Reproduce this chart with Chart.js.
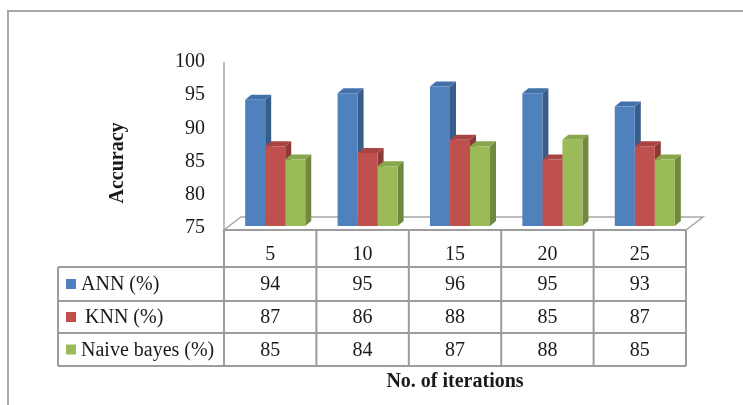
<!DOCTYPE html>
<html>
<head>
<meta charset="utf-8">
<script src="https://cdn.jsdelivr.net/npm/chart.js@4/dist/chart.umd.min.js"></script>
<style>
  html, body { margin: 0; padding: 0; background: #fff; }
  canvas { display: block; }
</style>
</head>
<body>
<canvas id="chart" width="743" height="405"></canvas>
<script>
// Accuracy of three classifiers against the number of iterations
const iterations = ['5', '10', '15', '20', '25'];
const annAccuracy = [94, 95, 96, 95, 93];
const knnAccuracy = [87, 86, 88, 85, 87];
const naiveBayesAccuracy = [85, 84, 87, 88, 85];
const seriesNames = ['ANN (%)', 'KNN (%)', 'Naive bayes (%)'];
const yMin = 75, yMax = 100, yStep = 5;
const yTitle = 'Accuracy';
const xTitle = 'No. of iterations';

const SERIF = '"Liberation Serif", "Times New Roman", serif';
const TEXT = '#1a1a1a';
const LINE = '#9c9c9c';
const faces = [
  { front: '#4F81BD', side: '#385D8A', top: '#4372AB' },
  { front: '#C0504D', side: '#8C3A38', top: '#A84542' },
  { front: '#9BBB59', side: '#71893F', top: '#88A64C' }
];
const DEPTH_X = 6, DEPTH_Y = 5;   // extrusion of each bar
const SHIFT = 5;                  // bars stand a little back on the floor
const FLOOR_X = 17, FLOOR_Y = 13; // floor depth

// side and top faces of the bars, plus floor and vertical axis line
const boxes3d = {
  id: 'boxes3d',
  beforeDatasetsDraw(chart) {
    const ctx = chart.ctx;
    const xs = chart.scales.x, area = chart.chartArea;
    const left = xs.left - SHIFT, right = xs.right - SHIFT;
    const front = area.bottom + 4, back = front - FLOOR_Y;
    ctx.save();
    ctx.lineWidth = 1.5;
    ctx.strokeStyle = '#a8a8a8';
    ctx.fillStyle = '#ffffff';
    ctx.beginPath();
    ctx.moveTo(left, front);
    ctx.lineTo(right, front);
    ctx.lineTo(right + FLOOR_X, back);
    ctx.lineTo(left + FLOOR_X, back);
    ctx.closePath();
    ctx.fill();
    ctx.stroke();
    ctx.beginPath();
    ctx.moveTo(left, area.top + 2);
    ctx.lineTo(left, front);
    ctx.stroke();

    const metas = chart.getSortedVisibleDatasetMetas();
    ['side', 'top'].forEach(face => {
      metas.forEach(meta => {
        const col = faces[meta.index];
        meta.data.forEach(el => {
          const p = el.getProps(['x', 'y', 'base', 'width'], true);
          const base = Math.min(p.base, area.bottom);
          const xl = p.x - p.width / 2, xr = p.x + p.width / 2;
          ctx.fillStyle = col[face];
          ctx.beginPath();
          if (face === 'side') {
            ctx.moveTo(xr, p.y);
            ctx.lineTo(xr + DEPTH_X, p.y - DEPTH_Y);
            ctx.lineTo(xr + DEPTH_X, base - DEPTH_Y);
            ctx.lineTo(xr, base);
          } else {
            ctx.moveTo(xl, p.y);
            ctx.lineTo(xr, p.y);
            ctx.lineTo(xr + DEPTH_X, p.y - DEPTH_Y);
            ctx.lineTo(xl + DEPTH_X, p.y - DEPTH_Y);
          }
          ctx.closePath();
          ctx.fill();
        });
      });
    });
    ctx.restore();
  }
};

// data table under the plot, axis titles and outer frame
const dataTable = {
  id: 'dataTable',
  afterDraw(chart) {
    const ctx = chart.ctx;
    const xs = chart.scales.x, area = chart.chartArea;
    const n = chart.data.labels.length;
    const colW = (xs.right - xs.left) / n;
    const x0 = xs.left - SHIFT;
    const xEnd = x0 + colW * n;
    const labelLeft = 58;
    const rows = [area.bottom + 4, 267, 301, 333, 366];
    ctx.save();

    ctx.strokeStyle = LINE;
    ctx.lineWidth = 2;
    ctx.beginPath();
    // horizontal rules
    ctx.moveTo(x0, rows[0]); ctx.lineTo(xEnd, rows[0]);
    for (let r = 1; r < rows.length; r++) {
      ctx.moveTo(labelLeft, rows[r]); ctx.lineTo(xEnd, rows[r]);
    }
    // vertical rules
    for (let i = 0; i <= n; i++) {
      const cx = x0 + colW * i;
      ctx.moveTo(cx, rows[0]); ctx.lineTo(cx, rows[rows.length - 1]);
    }
    ctx.moveTo(labelLeft, rows[1]); ctx.lineTo(labelLeft, rows[rows.length - 1]);
    ctx.stroke();

    ctx.fillStyle = TEXT;
    ctx.font = '20px ' + SERIF;
    ctx.textAlign = 'center';
    ctx.textBaseline = 'middle';
    chart.data.labels.forEach((lab, i) => {
      ctx.fillText(lab, x0 + colW * (i + 0.5), 255);
    });
    chart.data.datasets.forEach((ds, r) => {
      const cy = (rows[r + 1] + rows[r + 2]) / 2 + 1;
      ds.data.forEach((v, i) => {
        ctx.fillStyle = TEXT;
        ctx.textAlign = 'center';
        ctx.fillText(String(v), x0 + colW * (i + 0.5), cy);
      });
      ctx.fillStyle = faces[r].front;
      ctx.fillRect(66, cy - 6, 10, 10);
      ctx.fillStyle = TEXT;
      ctx.textAlign = 'left';
      ctx.fillText(ds.label, r === 1 ? 85 : 81, cy);
    });

    // axis titles
    ctx.font = 'bold 20px ' + SERIF;
    ctx.textAlign = 'center';
    ctx.fillText(xTitle, (x0 + xEnd) / 2, 382);
    ctx.save();
    ctx.translate(118, 163);
    ctx.rotate(-Math.PI / 2);
    ctx.fillText(yTitle, 0, 0);
    ctx.restore();

    // outer frame
    ctx.strokeStyle = '#a8a8a8';
    ctx.lineWidth = 2;
    ctx.beginPath();
    ctx.moveTo(8, 405); ctx.lineTo(8, 11); ctx.lineTo(743, 11);
    ctx.stroke();
    ctx.restore();
  }
};

const datasets = [annAccuracy, knnAccuracy, naiveBayesAccuracy].map((d, i) => ({
  label: seriesNames[i],
  data: d,
  backgroundColor: faces[i].front,
  borderWidth: 0,
  categoryPercentage: 0.65,
  barPercentage: 1.0
}));

new Chart(document.getElementById('chart'), {
  type: 'bar',
  data: { labels: iterations, datasets },
  options: {
    responsive: false,
    animation: false,
    devicePixelRatio: 1,
    layout: { padding: { left: 0, right: 52, top: 60, bottom: 179 } },
    plugins: { legend: { display: false }, tooltip: { enabled: false } },
    scales: {
      x: { display: false },
      y: {
        min: yMin, max: yMax,
        afterFit(scale) { scale.width = 229; },
        grid: { display: false, drawTicks: false },
        border: { display: false },
        ticks: {
          stepSize: yStep,
          padding: 24,
          labelOffset: 2,
          color: TEXT,
          font: { family: SERIF, size: 20 }
        }
      }
    }
  },
  plugins: [boxes3d, dataTable]
});
</script>
</body>
</html>
